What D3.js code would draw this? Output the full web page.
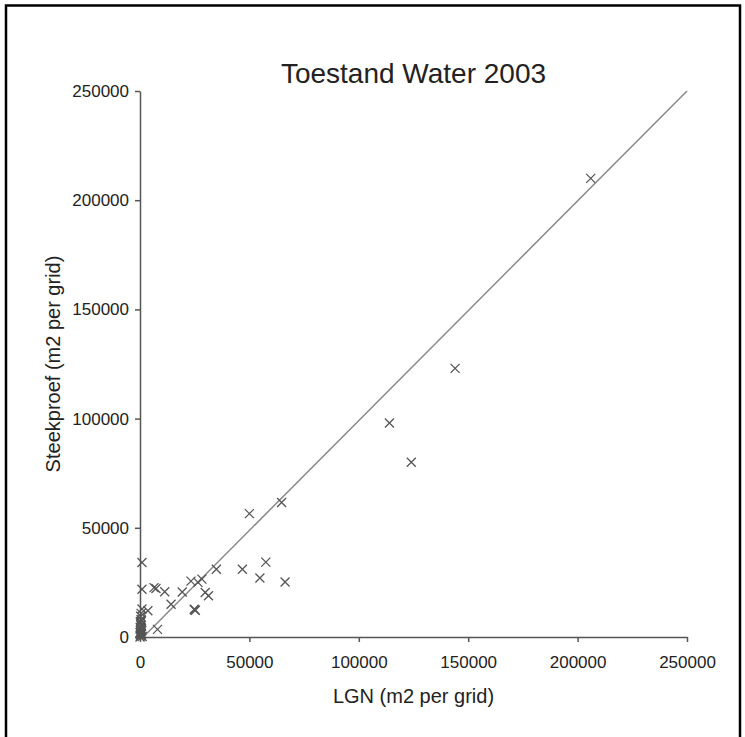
<!DOCTYPE html>
<html>
<head>
<meta charset="utf-8">
<script src="https://cdn.jsdelivr.net/npm/d3@7"></script>
<style>
    body { margin: 0; background: #fff; }
    text { font-family: "Liberation Sans", Arial, sans-serif; fill: #222; }
</style>
</head>
<body>
<div id="chart"></div>
<script>
(function () {
    "use strict";

    // LGN (x) vs Steekproef (y), m2 per grid
    const lgnValues = [206000, 144000, 114000, 124000, 64700, 50000, 46800, 57500, 54800, 66300,
        34900, 28300, 26500, 23300, 19300, 29800, 31300, 14200, 11300, 6400,
        7300, 900, 900, 3600, 900, 25000, 25300, 24800, 8000,
        300, 500, 200, 600, 300, 800, 400, 700, 200, 1000, 500,
        0, 200, 500, 300, 600, 100, 400, 200, 700, 0];
    const steekproefValues = [210000, 123000, 98000, 80000, 61600, 56500, 31000, 34300, 27000, 25200,
        31000, 26500, 25000, 25600, 20600, 20400, 18900, 15000, 20700, 22600,
        22200, 34100, 21900, 12000, 12800, 12500, 12200, 12700, 3500,
        9500, 8000, 6500, 5200, 4000, 3000, 2000, 1200, 500, 200, 10800,
        0, 1000, 1500, 2500, 3500, 4500, 5500, 7000, 7500, 2000];
    const tickValues = [0, 50000, 100000, 150000, 200000, 250000];
    const trendLine = [[1500, 0], [250000, 250000]];

    const width = 745;
    const height = 737;
    const margin = { top: 91, right: 58, bottom: 100, left: 140 };

    const svg = d3.select("#chart").append("svg")
        .attr("width", width)
        .attr("height", height);

    // outer frame (bottom edge falls outside the picture)
    svg.append("rect")
        .attr("x", 6)
        .attr("y", 5.5)
        .attr("width", 734)
        .attr("height", 740)
        .attr("fill", "none")
        .attr("stroke", "#000")
        .attr("stroke-width", 2.5);

    const xScale = d3.scaleLinear()
        .domain([0, 250000])
        .range([margin.left, width - margin.right]);

    const yScale = d3.scaleLinear()
        .domain([0, 250000])
        .range([height - margin.bottom, margin.top]);

    const xAxis = svg.append("g")
        .attr("transform", `translate(0,${yScale(0)})`)
        .call(d3.axisBottom(xScale)
            .tickValues(tickValues)
            .tickFormat(d3.format("d"))
            .tickSize(5)
            .tickSizeOuter(0)
            .tickPadding(14));

    const yAxis = svg.append("g")
        .attr("transform", `translate(${xScale(0)},0)`)
        .call(d3.axisLeft(yScale)
            .tickValues(tickValues)
            .tickFormat(d3.format("d"))
            .tickSize(5)
            .tickSizeOuter(0)
            .tickPadding(6));

    [xAxis, yAxis].forEach((axis) => {
        axis.select(".domain").attr("stroke", "#555").attr("stroke-width", 1.5);
        axis.selectAll(".tick line").attr("stroke", "#555").attr("stroke-width", 1.5);
        axis.selectAll(".tick text")
            .attr("font-size", 17)
            .attr("font-family", "Liberation Sans, Arial, sans-serif")
            .attr("fill", "#222");
    });

    const line = d3.line()
        .x(d => xScale(d[0]))
        .y(d => yScale(d[1]));

    svg.append("path")
        .datum(trendLine)
        .attr("d", line)
        .attr("fill", "none")
        .attr("stroke", "#888")
        .attr("stroke-width", 1.5);

    const points = lgnValues.map((x, i) => ({ x: x, y: steekproefValues[i] }));
    const r = 4.5;

    svg.append("g")
        .selectAll("path")
        .data(points)
        .join("path")
        .attr("d", d => {
            const cx = xScale(d.x);
            const cy = yScale(d.y);
            return `M${cx - r},${cy - r}L${cx + r},${cy + r}M${cx - r},${cy + r}L${cx + r},${cy - r}`;
        })
        .attr("fill", "none")
        .attr("stroke", "#555")
        .attr("stroke-width", 1.3);

    svg.append("text")
        .attr("x", (xScale(0) + xScale(250000)) / 2)
        .attr("y", 83)
        .attr("text-anchor", "middle")
        .attr("font-size", 28)
        .text("Toestand Water 2003");

    svg.append("text")
        .attr("x", (xScale(0) + xScale(250000)) / 2)
        .attr("y", 703)
        .attr("text-anchor", "middle")
        .attr("font-size", 20)
        .text("LGN (m2 per grid)");

    svg.append("text")
        .attr("transform", `translate(60,${(yScale(0) + yScale(250000)) / 2}) rotate(-90)`)
        .attr("text-anchor", "middle")
        .attr("font-size", 20)
        .text("Steekproef (m2 per grid)");
}());
</script>
</body>
</html>
